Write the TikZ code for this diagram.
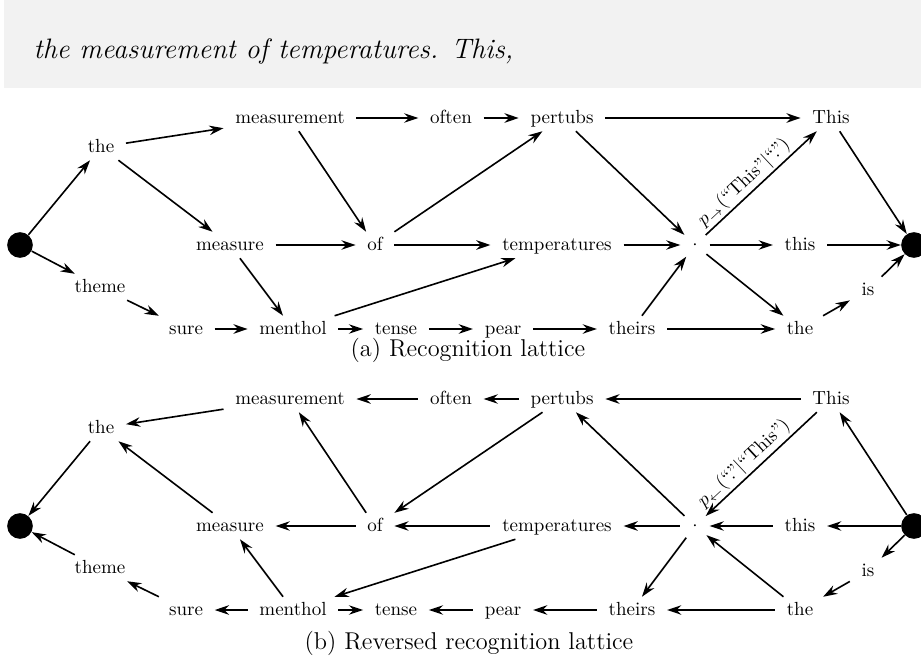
\documentclass[tikz,border=0pt]{standalone}
\usetikzlibrary{arrows.meta}

\tikzset{
  word/.style={inner xsep=6pt, inner ysep=3pt, text height=1.5ex, text depth=.25ex},
  terminal/.style={circle, fill=black, minimum size=13.5pt, inner sep=0pt},
  joint/.style={circle, minimum size=15pt, inner sep=0pt},
  arc/.style={-{Stealth[length=7.5pt,width=5pt,inset=2.5pt]}, line width=.85pt},
  rarc/.style={{Stealth[length=7.5pt,width=5pt,inset=2.5pt]}-, line width=.85pt},
  prob/.style={sloped, above, pos=.42, inner sep=1pt},
  subcap/.style={font=\fontsize{12.8}{15}\selectfont},
  hand/.style={font=\fontsize{14.8}{18}\selectfont\itshape}
}

\begin{document}
\begin{tikzpicture}[x=0.5263pt, y=-0.5263pt]
  \useasboundingbox (0,0) rectangle (921,659);

  % scanned line of handwriting
  \fill[black!5] (4,0) rectangle (921,88);
  \node[hand, anchor=base west] (scan) at (27,58) {the measurement of temperatures. This,};

  % (a) recognition lattice
  \node[terminal] (a-bos) at (20,245) {};
  \node[word] (a-the) at (101,147) {the};
  \node[word] (a-theme) at (100,287) {theme};
  \node[word] (a-measurement) at (290,118) {measurement};
  \node[word] (a-often) at (451,118) {often};
  \node[word] (a-pertubs) at (562,118) {pertubs};
  \node[word] (a-This) at (831,118) {This};
  \node[word] (a-measure) at (230,245) {measure};
  \node[word] (a-of) at (375,245) {of};
  \node[word] (a-temperatures) at (557,245) {temperatures};
  \node[joint] (a-dot) at (695,245) {$\cdot$};
  \node[word] (a-this) at (800,245) {this};
  \node[terminal] (a-eos) at (914,245) {};
  \node[word] (a-sure) at (186,329) {sure};
  \node[word] (a-menthol) at (293,329) {menthol};
  \node[word] (a-tense) at (396,329) {tense};
  \node[word] (a-pear) at (503,329) {pear};
  \node[word] (a-theirs) at (632,329) {theirs};
  \node[word] (a-the2) at (800,329) {the};
  \node[word] (a-is) at (868,290) {is};
  \node[subcap] (a-caption) at (468,350) {(a) Recognition lattice};

  \draw[arc] (a-bos) edge (a-the) edge (a-theme);
  \draw[arc] (a-the) edge (a-measurement) edge (a-measure);
  \draw[arc] (a-theme) edge (a-sure);
  \draw[arc] (a-measurement) edge (a-often) edge (a-of);
  \draw[arc] (a-often) edge (a-pertubs);
  \draw[arc] (a-pertubs) edge (a-This) edge (a-dot);
  \draw[arc] (a-measure) edge (a-of) edge (a-menthol);
  \draw[arc] (a-of) edge (a-pertubs) edge (a-temperatures);
  \draw[arc] (a-temperatures) edge (a-dot);
  \draw[arc] (a-dot)
    edge node[prob] {$p_{\rightarrow}(\mbox{``This''}|\mbox{``.''})$} (a-This)
    edge (a-this) edge (a-the2);
  \draw[arc] (a-this) edge (a-eos);
  \draw[arc] (a-This) edge (a-eos);
  \draw[arc] (a-sure) edge (a-menthol);
  \draw[arc] (a-menthol) edge (a-temperatures) edge (a-tense);
  \draw[arc] (a-tense) edge (a-pear);
  \draw[arc] (a-pear) edge (a-theirs);
  \draw[arc] (a-theirs) edge (a-dot) edge (a-the2);
  \draw[arc] (a-the2) edge (a-is);
  \draw[arc] (a-is) edge (a-eos);

  % (b) reversed lattice
  \node[terminal] (b-bos) at (20,526) {};
  \node[word] (b-the) at (101,428) {the};
  \node[word] (b-theme) at (100,568) {theme};
  \node[word] (b-measurement) at (290,399) {measurement};
  \node[word] (b-often) at (451,399) {often};
  \node[word] (b-pertubs) at (562,399) {pertubs};
  \node[word] (b-This) at (831,399) {This};
  \node[word] (b-measure) at (230,526) {measure};
  \node[word] (b-of) at (375,526) {of};
  \node[word] (b-temperatures) at (557,526) {temperatures};
  \node[joint] (b-dot) at (695,526) {$\cdot$};
  \node[word] (b-this) at (800,526) {this};
  \node[terminal] (b-eos) at (914,526) {};
  \node[word] (b-sure) at (186,610) {sure};
  \node[word] (b-menthol) at (293,610) {menthol};
  \node[word] (b-tense) at (396,610) {tense};
  \node[word] (b-pear) at (503,610) {pear};
  \node[word] (b-theirs) at (632,610) {theirs};
  \node[word] (b-the2) at (800,610) {the};
  \node[word] (b-is) at (868,571) {is};
  \node[subcap] (b-caption) at (469,643) {(b) Reversed recognition lattice};

  \draw[rarc] (b-bos) edge (b-the) edge (b-theme);
  \draw[rarc] (b-the) edge (b-measurement) edge (b-measure);
  \draw[rarc] (b-theme) edge (b-sure);
  \draw[rarc] (b-measurement) edge (b-often) edge (b-of);
  \draw[rarc] (b-often) edge (b-pertubs);
  \draw[rarc] (b-pertubs) edge (b-This) edge (b-dot);
  \draw[rarc] (b-measure) edge (b-of) edge (b-menthol);
  \draw[rarc] (b-of) edge (b-pertubs) edge (b-temperatures);
  \draw[rarc] (b-temperatures) edge (b-dot);
  \draw[rarc] (b-dot)
    edge node[prob] {$p_{\leftarrow}(\mbox{``.''}|\mbox{``This''})$} (b-This)
    edge (b-this) edge (b-the2);
  \draw[rarc] (b-this) edge (b-eos);
  \draw[rarc] (b-This) edge (b-eos);
  \draw[rarc] (b-sure) edge (b-menthol);
  \draw[rarc] (b-menthol) edge (b-temperatures);
  \draw[arc] (b-menthol) edge (b-tense);
  \draw[rarc] (b-tense) edge (b-pear);
  \draw[rarc] (b-pear) edge (b-theirs);
  \draw[rarc] (b-theirs) edge (b-dot) edge (b-the2);
  \draw[rarc] (b-the2) edge (b-is);
  \draw[rarc] (b-is) edge (b-eos);
\end{tikzpicture}
\end{document}
